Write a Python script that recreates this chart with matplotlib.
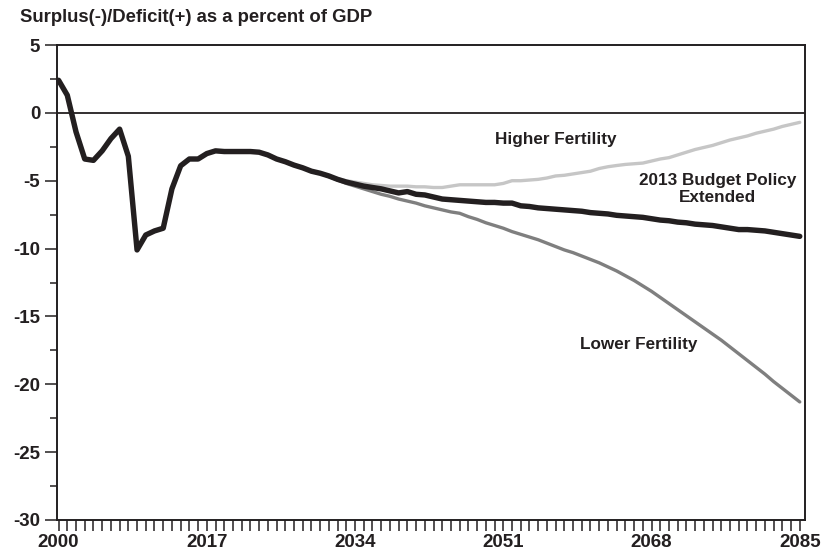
import matplotlib
matplotlib.use("Agg")
import matplotlib.pyplot as plt
from matplotlib.ticker import MultipleLocator, FixedLocator

plt.rcParams['font.family'] = ['Liberation Sans Narrow', 'Liberation Sans', 'DejaVu Sans']

years = list(range(2000, 2086))
baseline = [2.4, 1.3, -1.4, -3.4, -3.5, -2.8, -1.9, -1.2, -3.2, -10.1,
            -9.0, -8.7, -8.5, -5.6, -3.9, -3.4, -3.4, -3.0, -2.8, -2.85,
            -2.85, -2.85, -2.85, -2.9, -3.1, -3.4, -3.6, -3.85, -4.05, -4.3,
            -4.45, -4.65, -4.9, -5.1, -5.25, -5.4, -5.5, -5.6, -5.75, -5.9,
            -5.8, -6.0, -6.05, -6.2, -6.35, -6.4, -6.45, -6.5, -6.55, -6.6,
            -6.6, -6.65, -6.65, -6.85, -6.9, -7.0, -7.05, -7.1, -7.15, -7.2,
            -7.25, -7.35, -7.4, -7.45, -7.55, -7.6, -7.65, -7.7, -7.8, -7.9,
            -7.95, -8.05, -8.1, -8.2, -8.25, -8.3, -8.4, -8.5, -8.6, -8.6,
            -8.65, -8.7, -8.8, -8.9, -9.0, -9.1]

alt_years = list(range(2030, 2086))
higher_fertility = [-4.45, -4.65, -4.85, -5.0, -5.1, -5.2, -5.3, -5.35, -5.4, -5.4,
                    -5.4, -5.45, -5.45, -5.5, -5.5, -5.4, -5.3, -5.3, -5.3, -5.3,
                    -5.3, -5.2, -5.0, -5.0, -4.95, -4.9, -4.8, -4.65, -4.6, -4.5,
                    -4.4, -4.3, -4.1, -3.97, -3.88, -3.8, -3.75, -3.7, -3.55, -3.4,
                    -3.3, -3.1, -2.9, -2.7, -2.55, -2.4, -2.2, -2.0, -1.85, -1.7,
                    -1.5, -1.35, -1.2, -1.0, -0.85, -0.7]
lower_fertility = [-4.45, -4.7, -4.95, -5.2, -5.4, -5.6, -5.8, -6.0, -6.15, -6.35,
                   -6.5, -6.65, -6.85, -7.0, -7.15, -7.3, -7.4, -7.65, -7.85, -8.1,
                   -8.3, -8.5, -8.75, -8.95, -9.15, -9.35, -9.6, -9.85, -10.1, -10.3,
                   -10.55, -10.8, -11.05, -11.35, -11.65, -12.0, -12.35, -12.75, -13.15, -13.6,
                   -14.05, -14.5, -14.95, -15.4, -15.85, -16.3, -16.75, -17.25, -17.75, -18.25,
                   -18.75, -19.25, -19.8, -20.3, -20.8, -21.3]

x_labels = [2000, 2017, 2034, 2051, 2068, 2085]
y_labels = [5, 0, -5, -10, -15, -20, -25, -30]

fig = plt.figure(figsize=(8.23, 5.59), dpi=100)
ax = fig.add_axes([57/823, 1-520/559, (805-57)/823, (520-45)/559])

ax.axhline(0, color='#231f20', lw=1.3, zorder=1)
ax.plot(alt_years, higher_fertility, color='#c6c6c6', lw=2.4, solid_capstyle='round', zorder=2)
ax.plot(alt_years, lower_fertility, color='#7f7f7f', lw=2.4, solid_capstyle='round', zorder=2)
ax.plot(years, baseline, color='#231f20', lw=3.9, solid_capstyle='round',
        solid_joinstyle='round', zorder=3)

ax.set_xlim(1999.82, 2085.6)
ax.set_ylim(-30, 5)

ax.xaxis.set_major_locator(FixedLocator(x_labels))
ax.xaxis.set_minor_locator(MultipleLocator(1))
ax.set_xticklabels([str(v) for v in x_labels])
ax.yaxis.set_major_locator(FixedLocator(y_labels))
ax.yaxis.set_minor_locator(MultipleLocator(2.5))
ax.set_yticklabels([str(v) for v in y_labels])

ax.tick_params(axis='x', which='both', direction='out', length=8, width=1.1,
               color='#231f20', pad=2)
ax.tick_params(axis='y', which='major', direction='out', length=9, width=1.1,
               color='#231f20', pad=3)
ax.tick_params(axis='y', which='minor', direction='out', length=5, width=1.1,
               color='#231f20')
for lab in ax.get_xticklabels() + ax.get_yticklabels():
    lab.set_fontsize(13.5)
    lab.set_fontweight('bold')
    lab.set_color('#231f20')

for s in ax.spines.values():
    s.set_linewidth(1.4)
    s.set_color('#231f20')

fig.text(20/823, 1-18/559, 'Surplus(-)/Deficit(+) as a percent of GDP',
         fontsize=13.3, fontweight='bold', color='#231f20', ha='left', va='center')

ax.text(2057.0, -1.95, 'Higher Fertility', fontsize=12.3, fontweight='bold',
        color='#231f20', ha='center', va='center')
ax.text(2075.6, -5.6, '2013 Budget Policy\nExtended', fontsize=12.3, fontweight='bold',
        color='#231f20', ha='center', va='center', linespacing=1.15)
ax.text(2066.5, -17.1, 'Lower Fertility', fontsize=12.3, fontweight='bold',
        color='#231f20', ha='center', va='center')

fig.savefig('out.png', dpi=100)
